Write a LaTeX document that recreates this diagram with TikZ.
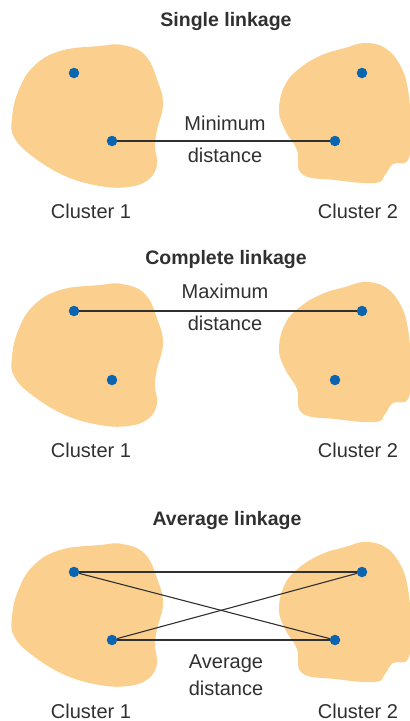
\documentclass[tikz,border=0pt]{standalone}
\usepackage{fontspec}
\setmainfont{Liberation Sans}
\usepackage{xcolor}
\usetikzlibrary{positioning}

\definecolor{blobfill}{HTML}{FBCF8D}
\definecolor{dotblue}{HTML}{0A64B0}
\definecolor{inkgray}{HTML}{303030}

\tikzset{
 pt/.style={circle, fill=dotblue, minimum size=10.5pt, inner sep=0pt},
 link/.style={draw=inkgray, line width=1.1pt},
 lbl/.style={text=inkgray, anchor=base, inner sep=0pt, font=\fontsize{20}{24}\selectfont},
 ttl/.style={lbl, font=\fontsize{19.5}{24}\selectfont\bfseries},
 % the two cluster outlines (pixel units, y downward)
 pics/clusterone/.style={code={
 \fill[blobfill] plot[smooth cycle, tension=0.7] coordinates {
 (12,118) (18,92) (33,67) (60,51) (100,46) (122,45) (145,55) (158,82)
 (163,105) (157,130) (155,147) (157,165) (148,180) (128,187) (100,186)
 (65,176) (32,156) (14,137)};
 }},
 pics/clustertwo/.style={code={
 \fill[blobfill] plot[smooth cycle, tension=0.7] coordinates {
 (279,110) (285,85) (300,68) (322,55) (345,48) (365,43) (385,48) (400,65)
 (408,90) (411,130) (408,160) (393,164) (385,175) (375,183) (335,180)
 (302,174) (297,150) (285,130)};
 }}
}

\begin{document}
\begin{tikzpicture}[x=1pt, y=-1pt]
\useasboundingbox (0,0) rectangle (410,721);

% Single linkage
\pic at (0,0) {clusterone};
\pic at (0,0) {clustertwo};
\node[ttl] (t1) at (226,26) {Single linkage};
\node[pt] (a1) at (74,73) {};
\node[pt] (b1) at (112,141) {};
\node[pt] (c1) at (362,73) {};
\node[pt] (d1) at (335,141) {};
\draw[link] (b1) -- (d1);
\node[lbl] (m1) at (225,130) {Minimum};
\node[lbl] (n1) at (225,162) {distance};
\node[lbl] (k1) at (91,218) {Cluster 1};
\node[lbl] (l1) at (358,218) {Cluster 2};

% Complete linkage
\pic at (0,239) {clusterone};
\pic at (0,239) {clustertwo};
\node[ttl] (t2) at (226,264) {Complete linkage};
\node[pt] (a2) at (74,311) {};
\node[pt] (b2) at (112,380) {};
\node[pt] (c2) at (362,311) {};
\node[pt] (d2) at (335,380) {};
\draw[link] (a2) -- (c2);
\node[lbl] (m2) at (225,298) {Maximum};
\node[lbl] (n2) at (225,330) {distance};
\node[lbl] (k2) at (91,457) {Cluster 1};
\node[lbl] (l2) at (358,457) {Cluster 2};

% Average linkage
\pic at (0,499) {clusterone};
\pic at (0,499) {clustertwo};
\node[ttl] (t3) at (227,525) {Average linkage};
\node[pt] (a3) at (74,572) {};
\node[pt] (b3) at (112,640) {};
\node[pt] (c3) at (362,572) {};
\node[pt] (d3) at (335,640) {};
\draw[link] (a3) -- (c3);
\draw[link] (b3) -- (d3);
\draw[link] (a3) -- (d3);
\draw[link] (b3) -- (c3);
\node[lbl] (m3) at (226,668) {Average};
\node[lbl] (n3) at (226,695) {distance};
\node[lbl] (k3) at (91,718) {Cluster 1};
\node[lbl] (l3) at (358,718) {Cluster 2};
\end{tikzpicture}
\end{document}
